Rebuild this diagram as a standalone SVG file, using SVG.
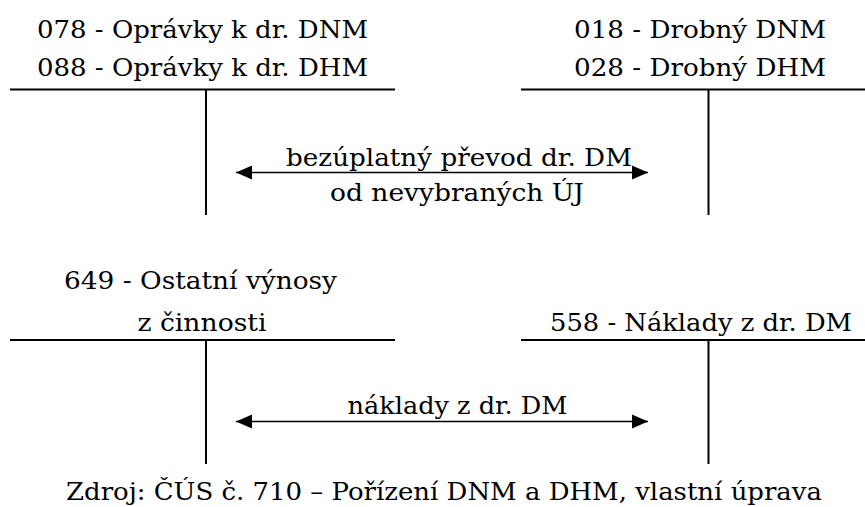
<svg xmlns="http://www.w3.org/2000/svg" width="865" height="507" viewBox="0 0 865 507">
  <style>
    .lbl { font-family: "DejaVu Serif", "Liberation Serif", serif; font-size: 25px; fill: #000; text-anchor: middle; }
    .t { stroke: #000; stroke-width: 2; fill: none; }
    .flow { stroke: #000; stroke-width: 1.6; fill: none; marker-start: url(#head); marker-end: url(#head); }
  </style>
  <defs>
    <marker id="head" markerUnits="userSpaceOnUse" markerWidth="17" markerHeight="17" viewBox="0 0 17 17" refX="16" refY="8.5" orient="auto-start-reverse">
      <path d="M0,1.5 L16,8.5 L0,15.5 Z" fill="#000"/>
    </marker>
  </defs>
  <rect width="865" height="507" fill="#fff"/>

  <!-- T-account: accumulated depreciation -->
  <g id="acc-078-088">
    <text class="lbl" x="202.5" y="37.5" textLength="331" lengthAdjust="spacingAndGlyphs">078 - Oprávky k dr. DNM</text>
    <text class="lbl" x="202.5" y="76" textLength="331" lengthAdjust="spacingAndGlyphs">088 - Oprávky k dr. DHM</text>
    <path class="t" d="M10,89.5 H395 M206,89.5 V215"/>
  </g>

  <!-- T-account: small fixed assets -->
  <g id="acc-018-028">
    <text class="lbl" x="700" y="37.5" textLength="252" lengthAdjust="spacingAndGlyphs">018 - Drobný DNM</text>
    <text class="lbl" x="700" y="76" textLength="252" lengthAdjust="spacingAndGlyphs">028 - Drobný DHM</text>
    <path class="t" d="M521,89.5 H865 M708.5,89.5 V215"/>
  </g>

  <!-- T-account: other operating revenue -->
  <g id="acc-649">
    <text class="lbl" x="200.5" y="289" textLength="273" lengthAdjust="spacingAndGlyphs">649 - Ostatní výnosy</text>
    <text class="lbl" x="202" y="331" textLength="129" lengthAdjust="spacingAndGlyphs">z činnosti</text>
    <path class="t" d="M10,340 H395 M206,340 V464"/>
  </g>

  <!-- T-account: small asset expenses -->
  <g id="acc-558">
    <text class="lbl" x="701" y="331" textLength="302" lengthAdjust="spacingAndGlyphs">558 - Náklady z dr. DM</text>
    <path class="t" d="M521,340 H865 M708.5,340 V464"/>
  </g>

  <!-- transfers between accounts -->
  <g id="connectors">
    <line class="flow" x1="236" y1="172.5" x2="648" y2="172.5"/>
    <line class="flow" x1="236" y1="421.5" x2="648" y2="421.5"/>
  </g>

  <g id="connector-labels">
    <text class="lbl" x="459" y="165.5" textLength="346" lengthAdjust="spacingAndGlyphs">bezúplatný převod dr. DM</text>
    <text class="lbl" x="457" y="201" textLength="254" lengthAdjust="spacingAndGlyphs">od nevybraných ÚJ</text>
    <text class="lbl" x="457.5" y="413.5" textLength="220" lengthAdjust="spacingAndGlyphs">náklady z dr. DM</text>
  </g>

  <g id="source">
    <text class="lbl" x="444" y="500" textLength="756" lengthAdjust="spacingAndGlyphs">Zdroj: ČÚS č. 710 – Pořízení DNM a DHM, vlastní úprava</text>
  </g>
</svg>
